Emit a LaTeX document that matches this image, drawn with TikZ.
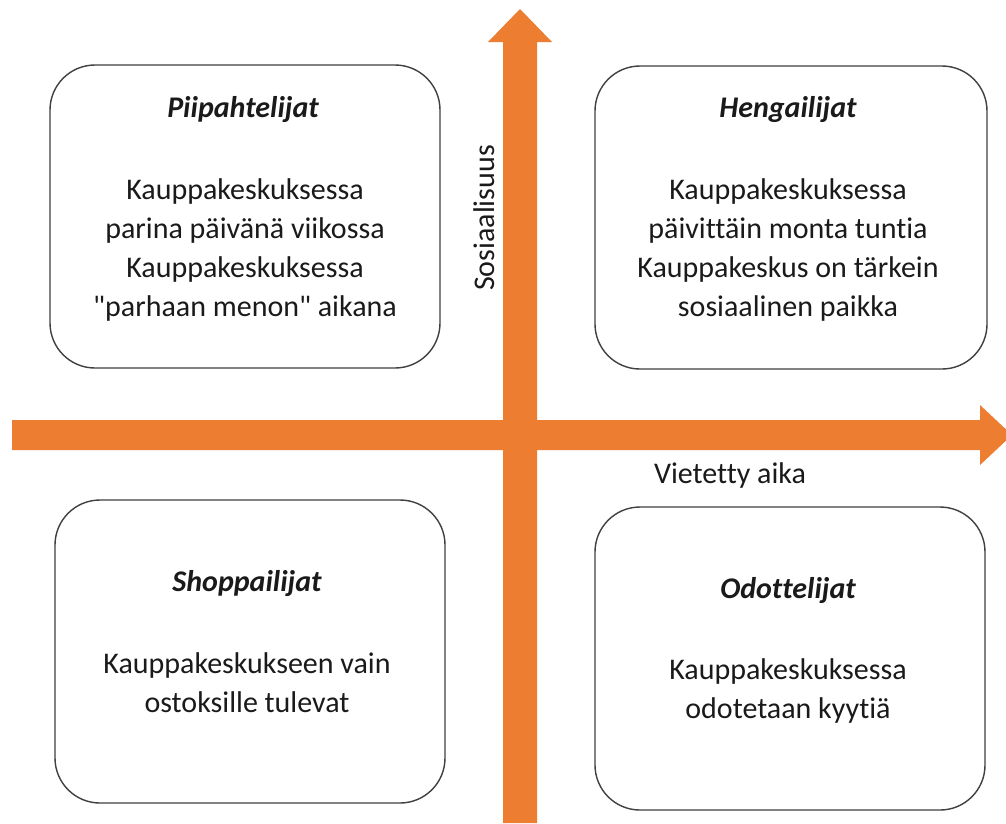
\documentclass[tikz,border=0pt]{standalone}
\usepackage{fontspec}
\setmainfont{Carlito}[Ligatures={NoCommon,NoRequired,NoContextual}]
\newfontfamily\plainqf{Carlito}
\newcommand{\sq}{{\plainqf\char34}}
\definecolor{axisorange}{HTML}{ED7D31}
\definecolor{boxline}{HTML}{404040}
\definecolor{txt}{HTML}{1A1A1A}
\tikzset{
  quadbox/.style={draw=boxline, line width=1.4pt, rounded corners=45pt, minimum width=#1, minimum height=303pt, inner sep=0pt},
  title/.style={font=\fontsize{30}{39}\selectfont\bfseries\itshape, text=txt, inner sep=0pt},
  body/.style={font=\fontsize{30}{39}\selectfont, text=txt, align=center, inner sep=0pt},
  axislabel/.style={font=\fontsize{30}{34}\selectfont, text=txt, inner sep=0pt}
}
\begin{document}
\begin{tikzpicture}[x=1pt,y=-1pt]
\useasboundingbox (0,0) rectangle (1006,823);
\clip (0,0) rectangle (1006,823);
\fill[white] (0,0) rectangle (1006,823);
% axes
\fill[axisorange] (503,823) -- (503,42) -- (488,42) -- (520,9) -- (552,42) -- (537,42) -- (537,823) -- cycle;
\fill[axisorange] (12,420) -- (980,420) -- (980,405) -- (1012,435) -- (980,465) -- (980,450) -- (12,450) -- cycle;
% boxes
\node[quadbox=390pt] (tl) at (245,216.5) {};
\node[quadbox=392pt] (tr) at (791,217.5) {};
\node[quadbox=390pt] (bl) at (250,651.5) {};
\node[quadbox=390pt] (br) at (790,658.5) {};
% texts
\node[title] (tlt) at (243,110) {Piipahtelijat};
\node[body] (tlb) at (245,250) {Kauppakeskuksessa\\parina päivänä viikossa\\Kauppakeskuksessa\\\sq parhaan menon\sq{} aikana};
\node[title] (trt) at (788,110) {Hengailijat};
\node[body] (trb) at (788,250) {Kauppakeskuksessa\\päivittäin monta tuntia\\Kauppakeskus on tärkein\\sosiaalinen paikka};
\node[title] (blt) at (247,583) {Shoppailijat};
\node[body] (blb) at (247,683) {Kauppakeskukseen vain\\ostoksille tulevat};
\node[title] (brt) at (788,590) {Odottelijat};
\node[body] (brb) at (788,691) {Kauppakeskuksessa\\odotetaan kyytiä};
% axis labels
\node[axislabel, rotate=90] (ylab) at (484,218) {Sosiaalisuus};
\node[axislabel] (xlab) at (730,475) {Vietetty aika};
\end{tikzpicture}
\end{document}
